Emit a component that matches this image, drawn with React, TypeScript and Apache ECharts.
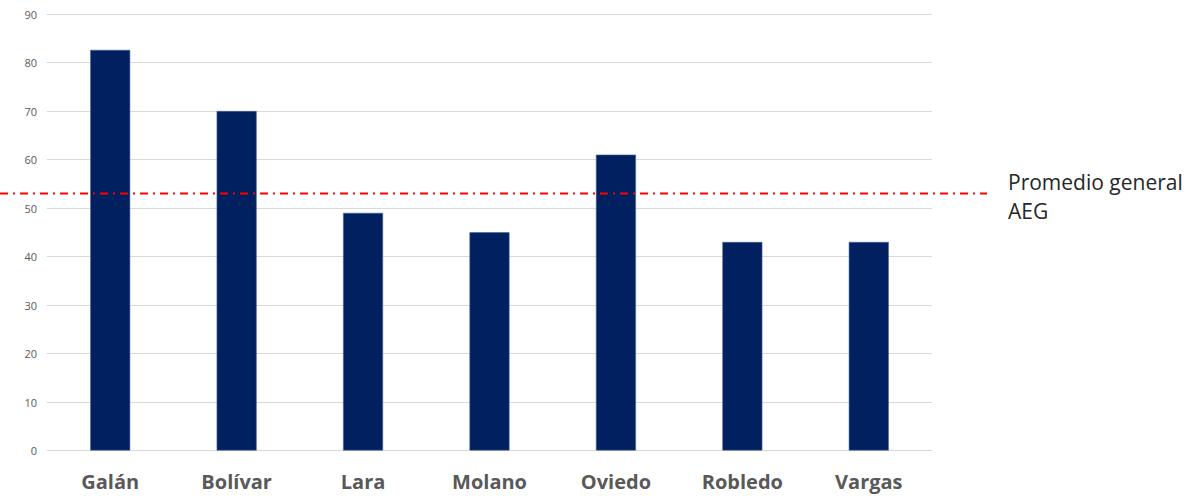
import React, { useEffect, useRef } from "react";
import * as echarts from "echarts";

const categories = ["Galán", "Bolívar", "Lara", "Molano", "Oviedo", "Robledo", "Vargas"];
const values = [82.6, 70, 49, 45, 61, 43, 43];
const averageValue = 53;
const averageLabel = "Promedio general\nAEG";

export default function App() {
  const ref = useRef<HTMLDivElement>(null);
  useEffect(() => {
    if (!ref.current) return;
    const chart = echarts.init(ref.current, null, { renderer: "svg" });
    chart.setOption({
      animation: false,
      backgroundColor: "#ffffff",
      grid: { left: 47, right: 259, top: 14, bottom: 45.5, containLabel: false },
      xAxis: {
        type: "category",
        data: categories,
        axisLine: { show: true, lineStyle: { color: "#d9d9d9", width: 1 } },
        axisTick: { show: false },
        axisLabel: {
          color: "#595959",
          fontSize: 20,
          fontWeight: "bold",
          fontFamily: "Open Sans",
          margin: 21,
        },
      },
      yAxis: {
        type: "value",
        min: 0,
        max: 90,
        interval: 10,
        axisLine: { show: false },
        axisTick: { show: false },
        splitLine: { lineStyle: { color: "#d9d9d9", width: 1 } },
        axisLabel: { color: "#595959", fontSize: 11, fontFamily: "Open Sans", margin: 10 },
      },
      series: [
        {
          type: "bar",
          data: values,
          barWidth: 40,
          itemStyle: { color: "#002060", borderColor: "#4a6496", borderWidth: 0.6 },
        },
      ],
    });
    const y = chart.convertToPixel({ yAxisIndex: 0 }, averageValue) as number;
    chart.setOption({
      graphic: [
        {
          type: "line",
          shape: { x1: 0, y1: y, x2: 987, y2: y },
          style: { stroke: "#ff0000", lineWidth: 2, lineDash: [8, 5, 2, 5] },
          z: 100,
        },
        {
          type: "text",
          x: 1008,
          y: y - 26,
          style: {
            text: averageLabel,
            fill: "#262626",
            fontSize: 21,
            fontFamily: "Open Sans",
            lineHeight: 29,
          },
          z: 100,
        },
      ],
    });
    return () => chart.dispose();
  }, []);
  return (
    <div
      ref={ref}
      style={{ position: "fixed", left: 0, top: 0, width: 1191, height: 496 }}
    />
  );
}
